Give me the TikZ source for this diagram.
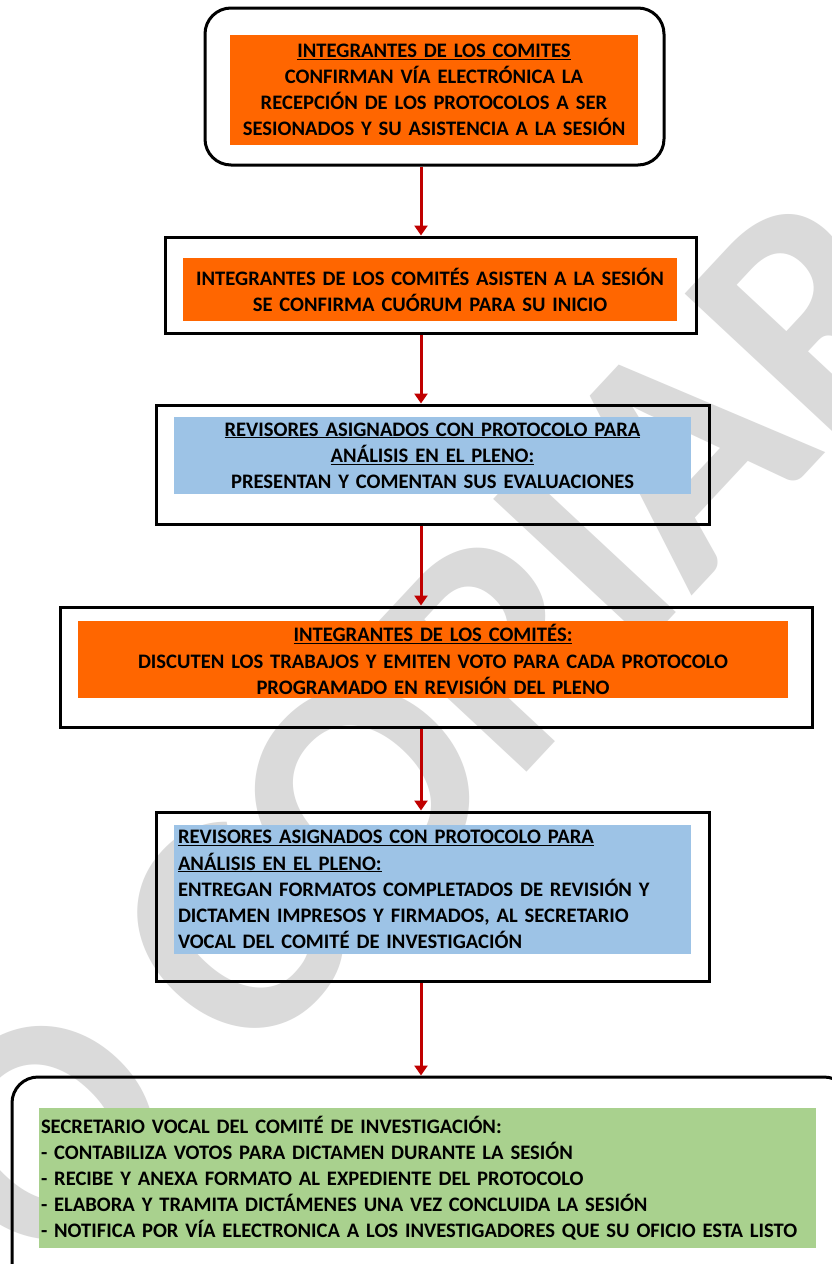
\documentclass[tikz,border=0pt]{standalone}
\usepackage{fontspec}
\setmainfont{Carlito}
\usetikzlibrary{arrows.meta}
\definecolor{orng}{HTML}{FF6600}
\definecolor{lblue}{HTML}{9DC3E6}
\definecolor{lgreen}{HTML}{A9D18E}
\definecolor{darr}{HTML}{C00000}
\definecolor{wmark}{HTML}{DADADA}
\tikzset{
  outer/.style={draw=black, line width=3pt, fill=none, inner sep=0pt},
  rounded/.style={outer, rounded corners=26pt},
  fillbox/.style={inner sep=4pt, font=\fontsize{20.6}{26.1}\selectfont\bfseries},
  arr/.style={draw=darr, line width=3pt, -{Triangle[width=13pt,length=10pt]}},
}
\begin{document}
\begin{tikzpicture}[x=1pt,y=-1pt]
\useasboundingbox (0,0) rectangle (832,1264);
\clip (0,0) rectangle (832,1264);
\fill[white] (0,0) rectangle (832,1264);
% watermark
\node[text=wmark, rotate=47, font=\fontsize{325}{325}\selectfont\bfseries, inner sep=0pt] (wm) at (350,808) {NO COPIAR};
% filled text boxes
\node[fillbox, fill=orng, minimum width=408pt, minimum height=110pt, text width=400pt, align=center] (t1) at (434,90)
  {\underline{INTEGRANTES DE LOS COMITES}\\CONFIRMAN VÍA ELECTRÓNICA LA\\RECEPCIÓN DE LOS PROTOCOLOS A SER\\SESIONADOS Y SU ASISTENCIA A LA SESIÓN};
\node[fillbox, fill=orng, minimum width=494pt, minimum height=63pt, text width=486pt, align=center] (t2) at (430,289.5)
  {INTEGRANTES DE LOS COMITÉS ASISTEN A LA SESIÓN\\SE CONFIRMA CUÓRUM PARA SU INICIO};
\node[fillbox, fill=lblue, minimum width=517pt, minimum height=77pt, text width=509pt, align=center] (t3) at (432.5,455.5)
  {\underline{REVISORES ASIGNADOS CON PROTOCOLO PARA}\\\underline{ANÁLISIS EN EL PLENO:}\\PRESENTAN Y COMENTAN SUS EVALUACIONES};
\node[fillbox, fill=orng, minimum width=710pt, minimum height=77pt, text width=702pt, align=center] (t4) at (433,659.5)
  {\underline{INTEGRANTES DE LOS COMITÉS:}\\DISCUTEN LOS TRABAJOS Y EMITEN VOTO PARA CADA PROTOCOLO\\PROGRAMADO EN REVISIÓN DEL PLENO};
\node[fillbox, fill=lblue, minimum width=517pt, minimum height=129pt, text width=509pt, align=left] (t5) at (432.5,889.5)
  {\underline{REVISORES ASIGNADOS CON PROTOCOLO PARA}\\\underline{ANÁLISIS EN EL PLENO:}\\ENTREGAN FORMATOS COMPLETADOS DE REVISIÓN Y\\DICTAMEN IMPRESOS Y FIRMADOS, AL SECRETARIO\\VOCAL DEL COMITÉ DE INVESTIGACIÓN};
\node[fillbox, fill=lgreen, minimum width=777pt, minimum height=140pt, text width=773pt, inner sep=2pt, align=left] (t6) at (427.5,1178)
  {SECRETARIO VOCAL DEL COMITÉ DE INVESTIGACIÓN:\\- CONTABILIZA VOTOS PARA DICTAMEN DURANTE LA SESIÓN\\- RECIBE Y ANEXA FORMATO AL EXPEDIENTE DEL PROTOCOLO\\- ELABORA Y TRAMITA DICTÁMENES UNA VEZ CONCLUIDA LA SESIÓN\\- NOTIFICA POR VÍA ELECTRONICA A LOS INVESTIGADORES QUE SU OFICIO ESTA LISTO};
% outer frames
\node[rounded, minimum width=459pt, minimum height=157pt] (b1) at (434.5,86.5) {};
\node[outer, minimum width=531pt, minimum height=96pt] (b2) at (430.5,285) {};
\node[outer, minimum width=553pt, minimum height=119pt] (b3) at (432.5,464.5) {};
\node[outer, minimum width=752pt, minimum height=120pt] (b4) at (436,667) {};
\node[outer, minimum width=553pt, minimum height=169pt] (b5) at (432.5,896.5) {};
\node[rounded, minimum width=838pt, minimum height=212pt] (b6) at (431,1183) {};
% connectors
\coordinate (ax) at (421,0);
\draw[arr] (b1.south -| ax) -- (b2.north -| ax);
\draw[arr] (b2.south -| ax) -- (b3.north -| ax);
\draw[arr] (b3.south -| ax) -- (b4.north -| ax);
\draw[arr] (b4.south -| ax) -- (b5.north -| ax);
\draw[arr] (b5.south -| ax) -- (b6.north -| ax);
\end{tikzpicture}
\end{document}
